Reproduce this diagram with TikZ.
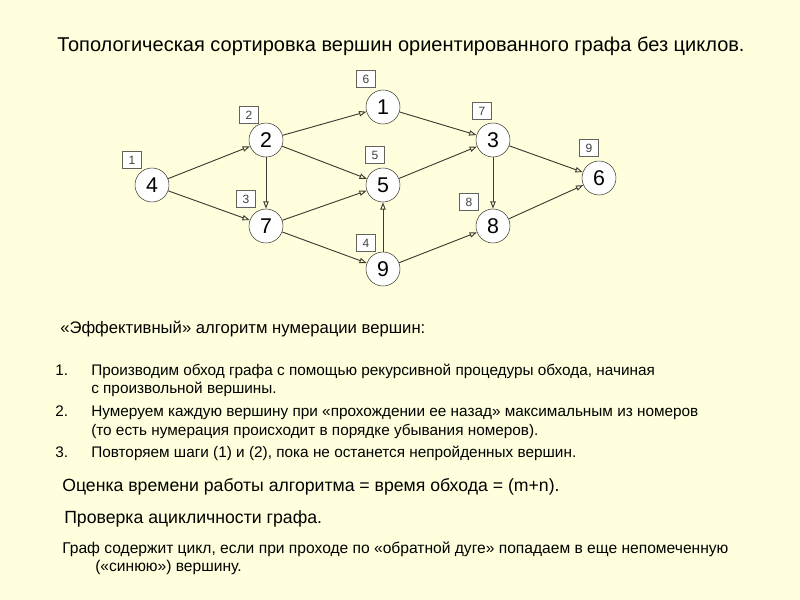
\documentclass[tikz,border=0pt]{standalone}
\usepackage{fontspec}
\setmainfont{Liberation Sans}
\usetikzlibrary{arrows.meta}
\definecolor{paper}{RGB}{255,255,221}
\definecolor{inkline}{RGB}{60,60,50}

\tikzset{
  vertex/.style={draw=inkline, fill=white, circle, minimum size=25.5pt, inner sep=0pt, font=\fontsize{16}{16}\selectfont},
  numbox/.style={draw=inkline!80, fill=white, minimum width=14pt, minimum height=12.5pt, inner sep=0pt, font=\fontsize{9}{10}\selectfont, text=black!75},
  edge/.style={draw=inkline, line width=0.7pt, -{Triangle[open, length=5.5pt, width=4pt]}},
  txt/.style={anchor=base west, inner sep=0pt}
}

\begin{document}
\begin{tikzpicture}[x=0.75pt, y=-0.75pt]
		%%%%% START %%%%%
		\fill[paper] (0, 0) rectangle (800, 600);
		\useasboundingbox (0, 0) rectangle (800, 600);
		
		\node[inner sep=0pt, font=\fontsize{15}{16}\selectfont] (title) at (401, 46) {Топологическая сортировка вершин ориентированного графа без циклов.};
		
		% vertices
		\node[vertex] (n4) at (152, 185) {4};
		\node[vertex] (n2) at (266, 140) {2};
		\node[vertex] (n7) at (266, 226) {7};
		\node[vertex] (n1) at (383, 107) {1};
		\node[vertex] (n5) at (383, 185) {5};
		\node[vertex] (n9) at (383, 269) {9};
		\node[vertex] (n3) at (493, 140) {3};
		\node[vertex] (n8) at (493, 226) {8};
		\node[vertex] (n6) at (599, 178) {6};
		
		% numbers
		\node[numbox] (b4) at (132, 160) {1};
		\node[numbox] (b2) at (249, 115) {2};
		\node[numbox] (b7) at (246, 199) {3};
		\node[numbox] (b9) at (366, 243) {4};
		\node[numbox] (b5) at (375, 155) {5};
		\node[numbox] (b1) at (366, 79) {6};
		\node[numbox] (b3) at (482, 111) {7};
		\node[numbox] (b8) at (469, 202) {8};
		\node[numbox] (b6) at (589, 148) {9};
		
		% arcs
		\foreach \a/\b in {n4/n2, n4/n7, n2/n1, n2/n5, n2/n7, n7/n5, n7/n9, n9/n5,
		                   n1/n3, n5/n3, n9/n8, n3/n8, n3/n6, n8/n6}
		  \draw[edge] (\a) -- (\b);
		
		% text
		\node[txt, font=\fontsize{12.5}{14}\selectfont] (head) at (60, 333) {«Эффективный» алгоритм нумерации вершин:};
		
		\begin{scope}[font=\fontsize{11.5}{12}\selectfont]
		  \node[txt] (i1) at (55, 375) {1.};
		  \node[txt] (t1a) at (91, 375) {Производим обход графа с помощью рекурсивной процедуры обхода, начиная};
		  \node[txt] (t1b) at (91, 393) {с произвольной вершины.};
		  \node[txt] (i2) at (55, 416) {2.};
		  \node[txt] (t2a) at (91, 416) {Нумеруем каждую вершину при «прохождении ее назад» максимальным из номеров};
		  \node[txt] (t2b) at (91, 435) {(то есть нумерация происходит в порядке убывания номеров).};
		  \node[txt] (i3) at (55, 457) {3.};
		  \node[txt] (t3) at (91, 457) {Повторяем шаги (1) и (2), пока не останется непройденных вершин.};
		\end{scope}
		
		\node[txt, font=\fontsize{13.25}{14}\selectfont] (cost) at (62, 491) {Оценка времени работы алгоритма = время обхода = (m+n).};
		\node[txt, font=\fontsize{13.25}{14}\selectfont] (check) at (64, 523) {Проверка ацикличности графа.};
		\node[txt, font=\fontsize{11.7}{12}\selectfont] (rule1) at (62, 553) {Граф содержит цикл, если при проходе по «обратной дуге» попадаем в еще непомеченную};
		\node[txt, font=\fontsize{11.7}{12}\selectfont] (rule2) at (95, 571) {(«синюю») вершину.};
		%%%%% END %%%%%
\end{tikzpicture}
\end{document}
